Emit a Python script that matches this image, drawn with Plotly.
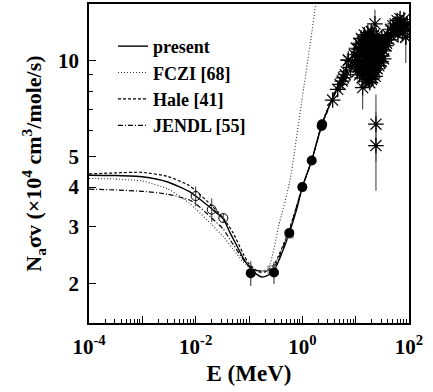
import plotly.graph_objects as go

# ---------------- data ----------------
# model curves (E in MeV, rate in 1e4 cm^3/mole/s)
present_E = [1e-4, 3e-4, 1e-3, 3e-3, 0.0075, 0.01, 0.02, 0.033, 0.044, 0.059, 0.08, 0.104, 0.14, 0.175, 0.22, 0.29, 0.4, 0.57, 0.8, 1.0, 1.5, 2.3, 3.5, 5.0, 7.0]
present_y = [4.36, 4.35, 4.31, 4.15, 3.88, 3.75, 3.42, 3.18, 2.88, 2.62, 2.38, 2.24, 2.13, 2.09, 2.11, 2.18, 2.45, 2.87, 3.45, 4.0, 4.85, 6.25, 7.45, 8.45, 9.4]

fczi_E = [1e-4, 3e-4, 1e-3, 3e-3, 0.005, 0.0075, 0.01, 0.02, 0.033, 0.05, 0.09, 0.13, 0.18, 0.23, 0.36, 0.58, 0.97, 1.39, 1.8, 2.0]
fczi_y = [4.26, 4.24, 4.18, 3.95, 3.75, 3.57, 3.42, 3.05, 2.80, 2.56, 2.27, 2.20, 2.19, 2.22, 3.02, 4.17, 7.4, 11.1, 15.2, 18.0]

hale_E = [1e-4, 3e-4, 1e-3, 3e-3, 0.0075, 0.01, 0.02, 0.033, 0.05, 0.08, 0.1, 0.15, 0.2, 0.3, 0.57, 1.0, 1.5, 2.3, 3.5, 5.0]
hale_y = [4.40, 4.43, 4.45, 4.32, 4.05, 3.90, 3.50, 3.20, 2.88, 2.45, 2.30, 2.17, 2.17, 2.30, 2.95, 4.0, 4.85, 6.3, 7.5, 8.5]

jendl_E = [1e-4, 3e-4, 1e-3, 3e-3, 0.0075, 0.01, 0.02, 0.033, 0.05, 0.09, 0.13, 0.18, 0.25, 0.3, 0.57, 1.0, 1.5, 2.3, 3.5, 5.0]
jendl_y = [3.94, 3.92, 3.88, 3.80, 3.65, 3.55, 3.20, 2.95, 2.65, 2.30, 2.20, 2.18, 2.20, 2.25, 2.92, 4.0, 4.85, 6.2, 7.4, 8.4]

# open circles
oc_E = [0.01, 0.02, 0.033]
oc_y = [3.75, 3.40, 3.20]
oc_err = [0.27, 0.29, 0.10]

# filled circles
fc_E = [0.108, 0.294, 0.57, 1.0, 1.5, 2.3, 2.35]
fc_y = [2.15, 2.16, 2.87, 4.0, 4.85, 6.22, 6.30]
fc_err = [0.19, 0.17, 0.08, 0.08, 0.08, 0.1, 0.1]

# open squares (grey)
sq_E = [0.27, 0.57]
sq_y = [2.20, 2.85]

# asterisks
st_E = [3.7, 4.6, 5.1, 5.6, 5.9, 6.4, 6.7, 7.3, 8.0, 8.7,
        9.5, 10.0, 10.3, 10.7, 11.0, 11.4, 11.8, 12.1, 12.5, 12.8, 13.2, 13.6, 14.0, 14.2, 14.5, 14.8,
        15.1, 15.4, 15.7, 16.0, 16.3, 16.6, 16.9, 17.2, 17.5, 17.8, 18.1, 18.4, 18.7, 19.0, 19.3, 19.6,
        19.9, 20.2, 20.5, 20.8, 21.1, 21.5, 21.9, 22.3, 22.7, 23.2, 23.7, 24.2, 24.7, 25.3, 25.9, 26.5,
        27.2, 28.0, 28.8, 29.7, 30.6, 31.6, 32.8, 34.0, 35.5,
        10.5, 11.2, 11.6, 12.3, 12.9, 13.4, 13.8, 14.4, 15.0, 15.6, 16.2, 16.8, 17.4, 18.0, 18.6,
        19.2, 19.8, 20.4, 21.0, 21.7, 22.5, 23.4, 24.4, 25.6, 27.0, 28.4, 30.0, 31.0, 33.5, 36.5,
        38, 40, 42, 45, 47, 50, 52, 55, 57, 60, 62, 65, 68, 70, 73, 76, 80, 84, 87, 92, 95]
st_y = [7.5, 8.1, 8.4, 8.6, 8.8, 9.0, 9.2, 10.0, 9.5, 9.9,
        10.4, 9.6, 10.9, 9.2, 10.2, 11.3, 9.0, 10.6, 9.8, 11.7, 8.8, 10.3, 11.0, 9.4, 12.0, 10.0,
        8.6, 10.8, 9.7, 11.5, 9.1, 10.4, 12.2, 8.7, 9.9, 11.1, 10.2, 8.5, 11.8, 9.5, 10.7, 12.3,
        9.0, 10.1, 11.4, 8.8, 9.8, 10.9, 12.0, 9.3, 10.5, 8.9, 11.2, 9.9, 10.6, 9.4, 11.5, 10.2,
        9.6, 10.9, 9.8, 11.0, 10.3, 10.8, 11.4, 10.7, 11.6,
        10.0, 9.5, 10.8, 11.2, 9.3, 11.4, 9.9, 10.6, 11.6, 9.2, 10.9, 9.5, 11.9, 9.3, 10.5,
        11.3, 8.7, 10.6, 11.9, 9.4, 11.6, 10.0, 11.9, 10.6, 11.2, 10.3, 9.9, 11.8, 10.1, 11.1,
        11.3, 12.0, 11.6, 12.5, 11.9, 12.8, 12.2, 13.0, 12.5, 13.3, 12.0, 12.9, 13.5, 12.6, 13.1, 12.3, 13.4, 12.8, 11.8, 13.0, 12.5]
st_rel_err = 0.05

# isolated asterisks with large errors
iso_E = [7.3, 13.5, 23.0, 24.0, 24.0, 87.0]
iso_y = [10.0, 8.2, 13.0, 6.3, 5.4, 11.8]
iso_err_plus = [0.7, 0.4, 1.4, 1.5, 1.5, 0.6]
iso_err_minus = [0.8, 1.2, 0.9, 1.5, 1.5, 2.0]

# axis ticks
x_labeled = [1e-4, 1e-2, 1, 100]
x_labeled_text = ["10<sup>-4</sup>", "10<sup>-2</sup>", "10<sup>0</sup>", "10<sup>2</sup>"]
x_unlabeled = [1e-3, 1e-1, 10]
y_major = [2, 3, 4, 5, 10]
y_major_text = ["2", "3", "4", "5", "10"]
y_minor = [6, 7, 8, 9]

# ---------------- figure ----------------
FONT = "Liberation Serif, Times New Roman, serif"
fig = go.Figure()

curves = [
    (present_E, present_y, "present", dict(color="black", width=1.4)),
    (fczi_E, fczi_y, "FCZI [68]", dict(color="#333333", width=1.1, dash="1px,2px")),
    (hale_E, hale_y, "Hale [41]", dict(color="black", width=1.2, dash="3px,2px")),
    (jendl_E, jendl_y, "JENDL [55]", dict(color="black", width=1.2, dash="5px,2px,1px,2px")),
]
for ex, ey, nm, ln in curves:
    ln = dict(ln, shape="spline", smoothing=0.6)
    fig.add_trace(go.Scatter(x=ex, y=ey, mode="lines", name=nm, legendgroup=nm, line=ln))

fig.add_trace(go.Scatter(x=oc_E, y=oc_y, mode="markers", showlegend=False,
                         error_y=dict(type="data", array=oc_err, color="#333333", thickness=1, width=0),
                         marker=dict(symbol="circle-open", size=9, color="black", line=dict(width=1))))
fig.add_trace(go.Scatter(x=sq_E, y=sq_y, mode="markers", showlegend=False,
                         marker=dict(symbol="square-open", size=8, color="#888888", line=dict(width=1))))
fig.add_trace(go.Scatter(x=fc_E, y=fc_y, mode="markers", showlegend=False,
                         error_y=dict(type="data", array=fc_err, color="#222222", thickness=1, width=0),
                         marker=dict(symbol="circle", size=10, color="black")))

st_err = [v * st_rel_err for v in st_y]
fig.add_trace(go.Scatter(x=st_E, y=st_y, mode="markers", showlegend=False,
                         error_y=dict(type="data", array=st_err, color="#555555", thickness=1, width=0),
                         marker=dict(symbol="asterisk-open", size=13, color="black",
                                     line=dict(width=1.2, color="black"))))
fig.add_trace(go.Scatter(x=iso_E, y=iso_y, mode="markers", showlegend=False,
                         error_y=dict(type="data", array=iso_err_plus, arrayminus=iso_err_minus,
                                      color="#555555", thickness=1.2, width=0),
                         marker=dict(symbol="asterisk-open", size=13, color="black",
                                     line=dict(width=1.2, color="black"))))
# invisible carrier trace for the overlay x axis with the unlabeled decade ticks
fig.add_trace(go.Scatter(x=x_unlabeled, y=[2, 2, 2], xaxis="x2", mode="markers", showlegend=False,
                         marker=dict(opacity=0), hoverinfo="skip"))

axis_common = dict(showgrid=False, zeroline=False, ticks="inside", tickcolor="black",
                   tickwidth=1, ticklen=7,
                   tickfont=dict(family=FONT, size=21, color="black", weight="bold"))

fig.update_layout(
    xaxis=dict(type="log", range=[-4, 2], tickmode="array", tickvals=x_labeled, ticktext=x_labeled_text,
               showline=True, linecolor="black", linewidth=1.5, mirror=True, ticklabelstandoff=4,
               minor=dict(ticks="inside", ticklen=4, tickcolor="black", tickwidth=1, dtick="D1"),
               title=dict(text="E (MeV)", font=dict(family=FONT, size=23, color="black", weight="bold"),
                          standoff=7),
               **axis_common),
    xaxis2=dict(type="log", range=[-4, 2], overlaying="x", side="bottom", tickmode="array",
                tickvals=x_unlabeled, showticklabels=False, showline=False, **axis_common),
    yaxis=dict(type="log", range=[0.1761, 1.1761], tickmode="array", tickvals=y_major, ticktext=y_major_text,
               showline=True, linecolor="black", linewidth=1.5, mirror=True, ticklabelstandoff=4,
               minor=dict(ticks="inside", ticklen=4, tickcolor="black", tickwidth=1,
                          tickmode="array", tickvals=y_minor),
               title=dict(text="N<sub>a</sub>σv (×10<sup>4</sup> cm<sup>3</sup>/mole/s)",
                          font=dict(family=FONT, size=22, color="black", weight="bold"), standoff=10),
               **axis_common),
    width=433, height=392,
    margin=dict(l=89, r=24, t=4, b=69, autoexpand=False),
    paper_bgcolor="white", plot_bgcolor="white",
    font=dict(family=FONT, color="black", weight="bold"),
    legend=dict(x=0.075, y=0.925, xanchor="left", yanchor="top", bgcolor="rgba(0,0,0,0)",
                font=dict(family=FONT, size=18, color="black", weight="bold"),
                tracegroupgap=0, itemwidth=30),
)

fig.write_html("out.html", config={"displayModeBar": False},
               post_script="document.body.style.margin='0';")
